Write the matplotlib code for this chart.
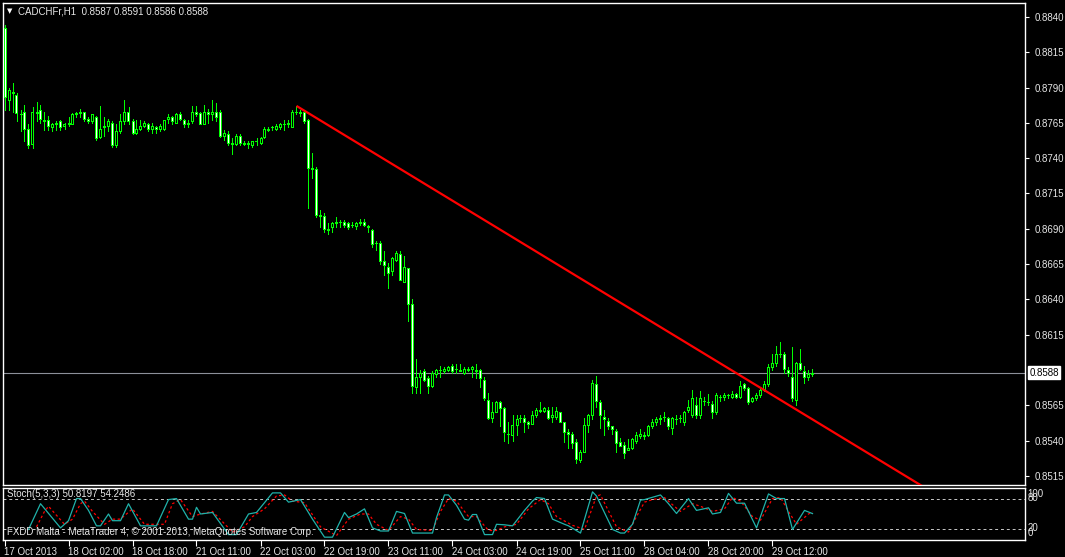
import matplotlib
matplotlib.use("Agg")
import matplotlib.pyplot as plt
import numpy as np

plt.rcParams['font.family'] = ['Liberation Sans', 'DejaVu Sans']

# CADCHFr H1 candles, bar 0 = 17 Oct 2013 10:00
opens = [
    .8832, .8781, .8786, .8785, .8771, .8773, .8761, .8750, .8773, .8774,
    .8767, .8767, .8762, .8764, .8766, .8763, .8764, .8764, .8771, .8772,
    .8773, .8768, .8766, .8769, .8755, .8762, .8763, .8765, .8749, .8759,
    .8766, .8773, .8766, .8758, .8761, .8763, .8764, .8761, .8762, .8761,
    .8761, .8768, .8769, .8765, .8771, .8767, .8764, .8766, .8773, .8772,
    .8764, .8773, .8771, .8773, .8773, .8756, .8757, .8751, .8750, .8756,
    .8751, .8750, .8749, .8752, .8751, .8755, .8760, .8762, .8761, .8762,
    .8764, .8764, .8762, .8773, .8773, .8773, .8767, .8733, .8732, .8700,
    .8699, .8690, .8691, .8694, .8695, .8695, .8694, .8693, .8692, .8695,
    .8695, .8692, .8689, .8680, .8680, .8667, .8663, .8660, .8668, .8672,
    .8652, .8662, .8637, .8578, .8585, .8589, .8584, .8579, .8587, .8590,
    .8589, .8590, .8593, .8591, .8590, .8588, .8590, .8591, .8590, .8590,
    .8583, .8569, .8556, .8560, .8567, .8563, .8545, .8544, .8551, .8556,
    .8556, .8553, .8552, .8558, .8562, .8561, .8562, .8557, .8557, .8560,
    .8553, .8546, .8545, .8539, .8526, .8532, .8551, .8558, .8580, .8567,
    .8557, .8554, .8550, .8547, .8539, .8537, .8533, .8535, .8540, .8543,
    .8544, .8544, .8550, .8553, .8555, .8557, .8556, .8549, .8555, .8556,
    .8553, .8562, .8558, .8565, .8558, .8568, .8567, .8566, .8560, .8571,
    .8571, .8572, .8571, .8573, .8571, .8580, .8577, .8568, .8570, .8572,
    .8576, .8580, .8592, .8595, .8601, .8601, .8590, .8585, .8569, .8595,
    .8589, .8585, .8587,
]
highs = [
    .8834, .8790, .8793, .8786, .8774, .8778, .8764, .8776, .8780, .8778,
    .8773, .8770, .8765, .8766, .8767, .8765, .8769, .8772, .8773, .8775,
    .8773, .8769, .8771, .8770, .8777, .8769, .8768, .8766, .8764, .8771,
    .8781, .8776, .8768, .8767, .8767, .8766, .8765, .8765, .8763, .8764,
    .8767, .8771, .8770, .8772, .8773, .8768, .8767, .8777, .8777, .8773,
    .8778, .8775, .8781, .8779, .8774, .8760, .8759, .8754, .8757, .8757,
    .8752, .8752, .8752, .8754, .8755, .8762, .8762, .8763, .8764, .8765,
    .8767, .8767, .8774, .8777, .8774, .8774, .8768, .8744, .8734, .8703,
    .8701, .8694, .8695, .8698, .8696, .8696, .8695, .8695, .8695, .8697,
    .8697, .8693, .8690, .8681, .8681, .8674, .8666, .8670, .8674, .8674,
    .8671, .8662, .8640, .8598, .8590, .8591, .8586, .8589, .8591, .8593,
    .8592, .8593, .8594, .8594, .8594, .8592, .8592, .8593, .8594, .8591,
    .8585, .8574, .8567, .8568, .8568, .8564, .8553, .8558, .8558, .8558,
    .8558, .8554, .8561, .8563, .8567, .8564, .8564, .8564, .8564, .8560,
    .8553, .8548, .8546, .8541, .8533, .8556, .8559, .8583, .8586, .8569,
    .8562, .8556, .8550, .8548, .8542, .8539, .8541, .8542, .8546, .8548,
    .8546, .8551, .8555, .8557, .8558, .8560, .8557, .8557, .8558, .8558,
    .8561, .8569, .8576, .8571, .8575, .8571, .8573, .8568, .8574, .8572,
    .8574, .8573, .8575, .8574, .8582, .8581, .8578, .8571, .8574, .8577,
    .8582, .8594, .8601, .8607, .8610, .8603, .8592, .8606, .8596, .8605,
    .8593, .8590, .8591,
]
lows = [
    .8774, .8774, .8773, .8766, .8759, .8752, .8747, .8747, .8766, .8765,
    .8760, .8760, .8759, .8760, .8760, .8761, .8763, .8764, .8769, .8769,
    .8766, .8765, .8765, .8753, .8754, .8756, .8759, .8748, .8748, .8758,
    .8764, .8764, .8757, .8757, .8760, .8762, .8759, .8758, .8758, .8759,
    .8760, .8765, .8764, .8765, .8767, .8762, .8762, .8765, .8770, .8764,
    .8764, .8765, .8767, .8766, .8755, .8753, .8749, .8743, .8749, .8749,
    .8749, .8747, .8748, .8749, .8750, .8754, .8759, .8760, .8760, .8761,
    .8760, .8762, .8762, .8771, .8770, .8765, .8705, .8726, .8698, .8691,
    .8688, .8686, .8688, .8691, .8691, .8691, .8690, .8691, .8690, .8693,
    .8692, .8688, .8677, .8675, .8665, .8657, .8648, .8657, .8667, .8654,
    .8652, .8625, .8574, .8574, .8574, .8582, .8574, .8578, .8585, .8585,
    .8588, .8589, .8588, .8588, .8589, .8587, .8589, .8585, .8584, .8578,
    .8569, .8555, .8553, .8560, .8550, .8540, .8538, .8540, .8544, .8553,
    .8546, .8549, .8552, .8557, .8560, .8560, .8555, .8553, .8555, .8553,
    .8539, .8535, .8535, .8524, .8525, .8532, .8546, .8555, .8564, .8549,
    .8544, .8548, .8545, .8532, .8536, .8528, .8533, .8534, .8538, .8542,
    .8541, .8543, .8549, .8551, .8552, .8554, .8548, .8545, .8552, .8553,
    .8551, .8560, .8557, .8556, .8556, .8565, .8565, .8556, .8559, .8568,
    .8569, .8570, .8570, .8570, .8570, .8576, .8566, .8567, .8569, .8571,
    .8575, .8579, .8590, .8593, .8599, .8588, .8586, .8568, .8565, .8590,
    .8581, .8583, .8586,
]
closes = [
    .8783, .8788, .8787, .8772, .8771, .8761, .8749, .8773, .8772, .8768,
    .8766, .8763, .8764, .8765, .8762, .8764, .8765, .8771, .8772, .8773,
    .8768, .8766, .8771, .8754, .8761, .8763, .8766, .8749, .8759, .8766,
    .8773, .8766, .8758, .8761, .8763, .8765, .8761, .8763, .8761, .8763,
    .8767, .8769, .8766, .8771, .8768, .8764, .8765, .8773, .8771, .8764,
    .8773, .8771, .8773, .8769, .8756, .8758, .8751, .8750, .8756, .8751,
    .8750, .8751, .8752, .8752, .8754, .8761, .8761, .8762, .8763, .8764,
    .8764, .8765, .8773, .8773, .8772, .8766, .8733, .8732, .8700, .8699,
    .8690, .8689, .8694, .8695, .8695, .8693, .8691, .8693, .8694, .8694,
    .8693, .8691, .8679, .8680, .8667, .8664, .8659, .8669, .8673, .8654,
    .8663, .8637, .8579, .8585, .8588, .8583, .8579, .8588, .8590, .8590,
    .8591, .8592, .8589, .8591, .8589, .8591, .8591, .8592, .8589, .8584,
    .8570, .8556, .8560, .8567, .8563, .8546, .8545, .8551, .8555, .8556,
    .8553, .8552, .8558, .8562, .8561, .8563, .8556, .8558, .8561, .8553,
    .8546, .8545, .8538, .8527, .8532, .8551, .8558, .8581, .8568, .8558,
    .8555, .8550, .8548, .8538, .8536, .8531, .8535, .8541, .8544, .8545,
    .8543, .8550, .8553, .8555, .8556, .8557, .8550, .8556, .8555, .8556,
    .8560, .8564, .8570, .8558, .8570, .8568, .8567, .8560, .8572, .8571,
    .8572, .8572, .8573, .8571, .8579, .8577, .8567, .8570, .8572, .8576,
    .8580, .8592, .8595, .8601, .8601, .8591, .8588, .8570, .8595, .8591,
    .8585, .8587, .8588,
]

# Stochastic(5,3,3) turning points (bar index, value)
stoch_k_bars = [6, 9, 14, 16, 18, 19, 21, 23, 24, 26, 27, 29, 31, 34, 38, 41, 43, 46, 47, 48,
                49, 52, 56, 58, 61, 63, 67, 69, 71, 74, 77, 80, 82, 85, 86, 88, 90, 92, 94, 96,
                98, 100, 102, 107, 108, 110, 111, 113, 115, 116, 117, 118, 120, 122, 123, 125,
                127, 130, 132, 133, 135, 137, 140, 141, 144, 147, 148, 152, 154, 155, 157, 159,
                160, 164, 166, 168, 171, 173, 176, 177, 179, 181, 183, 185, 188, 191, 193, 195,
                197, 200, 202]
stoch_k_vals = [20, 70, 23, 37, 80, 80, 57, 27, 27, 50, 37, 37, 70, 27, 27, 78, 80, 40, 40, 63,
                50, 53, 10, 10, 50, 53, 91, 91, 73, 78, 40, 5, 5, 53, 43, 50, 60, 23, 17, 17,
                55, 51, 13, 13, 43, 87, 87, 67, 40, 38, 49, 49, 10, 10, 30, 29,
                27, 57, 75, 82, 80, 40, 30, 27, 13, 93, 85, 20, 13, 13, 30, 77,
                78, 87, 70, 51, 80, 57, 62, 50, 53, 90, 71, 71, 23, 89, 80, 80,
                20, 57, 50.82]
stoch_d_bars = [8, 10, 11, 15, 17, 19, 20, 22, 25, 27, 29, 32, 35, 40, 42, 44, 47, 49, 52, 57,
                60, 62, 65, 68, 70, 72, 75, 79, 83, 86, 89, 91, 93, 96, 99, 101, 103, 107, 109,
                111, 113, 116, 118, 121, 123, 125, 128, 131, 134, 136, 138, 142, 145, 148, 149,
                153, 156, 158, 160, 162, 165, 167, 169, 172, 174, 177, 180, 182, 184, 187, 189,
                192, 194, 196, 198, 201, 202]
stoch_d_vals = [25, 55, 65, 30, 40, 70, 75, 55, 30, 40, 40, 60, 30, 30, 70, 78, 45, 50, 55, 15,
                25, 45, 60, 85, 87, 75, 72, 25, 8, 40, 50, 50, 30, 18, 45, 40, 20, 18, 55,
                80, 75, 45, 45, 18, 18, 25, 30, 60, 78, 70, 45, 28, 20, 85, 87,
                25, 15, 45, 73, 78, 82, 68, 55, 70, 65, 55, 60, 82, 75, 45, 38,
                80, 82, 55, 30, 50, 54.25]

tick_bars = [0, 16, 32, 48, 64, 80, 96, 112, 128, 144, 160, 176, 192]
tick_labels = ['17 Oct 2013', '18 Oct 02:00', '18 Oct 18:00', '21 Oct 11:00', '22 Oct 03:00',
               '22 Oct 19:00', '23 Oct 11:00', '24 Oct 03:00', '24 Oct 19:00', '25 Oct 11:00',
               '28 Oct 04:00', '28 Oct 20:00', '29 Oct 12:00']
price_ticks = [0.8840, 0.8815, 0.8790, 0.8765, 0.8740, 0.8715, 0.8690, 0.8665,
               0.8640, 0.8615, 0.8565, 0.8540, 0.8515]
bid = 0.8588
trend_start = (73, 0.8777)
trend_point = (202, 0.8555)

W, H = 1065, 557
GREEN = '#00ff00'
FG = '#e6e6e6'
PX = 0.72  # one pixel in points at dpi 100

fig = plt.figure(figsize=(W / 100, H / 100), dpi=100, facecolor='black')
ax = fig.add_axes([2.5 / W, (H - 485) / H, (1025 - 2.5) / W, (485 - 2.5) / H], facecolor='black')
ax2 = fig.add_axes([2.5 / W, (H - 540) / H, (1025 - 2.5) / W, (540 - 488) / H], facecolor='black')

idx = np.arange(len(closes))
o = np.array(opens); c = np.array(closes)
# 4 px per bar, bar centres on pixel centres
x_lim = (-0.5, 255.125)

# candles: bear bodies white, bull bodies black, lime outline
ax.vlines(idx, lows, highs, color=GREEN, lw=PX, zorder=2, antialiased=False)
fills = np.where(c < o, 'white', 'black')
ax.bar(idx, c - o, bottom=o, width=0.5, color=fills, edgecolor=GREEN, linewidth=PX,
       zorder=3, antialiased=False)

# bid line and trend ray
ax.axhline(bid, color='#8c9099', lw=0.8, zorder=1)
slope = (trend_point[1] - trend_start[1]) / (trend_point[0] - trend_start[0])
ax.plot([trend_start[0], x_lim[1]], [trend_start[1], trend_start[1] + slope * (x_lim[1] - trend_start[0])],
        color='#ff0000', lw=1.6, zorder=4, solid_capstyle='butt')

ax.set_xlim(*x_lim)
ax.set_ylim(0.850857, 0.885023)
ax.set_xticks([])
ax.yaxis.tick_right()
ax.set_yticks(price_ticks)
ax.set_yticklabels([f'{p:.4f}' for p in price_ticks])
ax.tick_params(axis='y', colors='white', labelcolor=FG, labelsize=7, length=3, width=0.8, pad=4)
for s in ax.spines.values():
    s.set_color('white'); s.set_linewidth(1)

ax.annotate(f'{bid:.4f}', xy=(1, bid), xycoords=('axes fraction', 'data'), xytext=(3, 0),
            textcoords='offset points', ha='left', va='center', fontsize=7, color='black',
            bbox=dict(boxstyle='square,pad=0.15', facecolor='white', edgecolor='white'))

# stochastic window
ax2.plot(stoch_k_bars, stoch_k_vals, color='#20b2aa', lw=0.9, zorder=3)
ax2.plot(stoch_d_bars, stoch_d_vals, color='#ff0000', lw=0.9, ls=(0, (2, 2)), zorder=2)
for lvl in (20, 80):
    ax2.axhline(lvl, color='#c8c8c8', lw=0.7, ls=(0, (3, 3)), zorder=1)
ax2.set_xlim(*x_lim)
ax2.set_ylim(-0.5, 100.5)
ax2.set_yticks([])
for s in ax2.spines.values():
    s.set_color('white'); s.set_linewidth(1)
# level labels overlap in pairs, as in the terminal
for val, txt in [(88, '100'), (81, '80'), (23, '20'), (13, '0')]:
    ax2.annotate(txt, xy=(1, val), xycoords=('axes fraction', 'data'), xytext=(2, 0),
                 textcoords='offset points', ha='left', va='center', fontsize=7, color=FG)

ax2.set_xticks(tick_bars)
ax2.set_xticklabels(tick_labels, ha='left')
ax2.tick_params(axis='x', colors='white', labelcolor=FG, labelsize=7, length=4, width=0.8, pad=1)

# header texts
fig.text(7 / W, 1 - 11 / H, '\u25bc', fontsize=5, color='white', va='center', family='DejaVu Sans')
fig.text(18 / W, 1 - 11 / H, 'CADCHFr,H1  0.8587 0.8591 0.8586 0.8588', fontsize=7, color=FG, va='center')
fig.text(7 / W, 1 - 494 / H, 'Stoch(5,3,3) 50.8197 54.2486', fontsize=7, color=FG, va='center')
fig.text(7 / W, 1 - 532 / H, 'FXDD Malta - MetaTrader 4, \u00a9 2001-2013, MetaQuotes Software Corp.',
         fontsize=7, color=FG, va='center')

fig.savefig('out.png', dpi=100, facecolor='black')
